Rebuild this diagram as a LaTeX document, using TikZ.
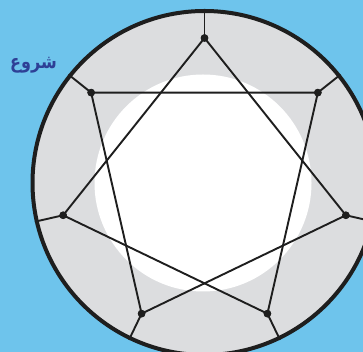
\documentclass[tikz,border=0pt]{standalone}
\usepackage{fontspec}
\newfontfamily\arabicfont[Script=Arabic]{DejaVu Sans}
\TeXXeTstate=1
\usetikzlibrary{calc}
\definecolor{bg}{RGB}{110,196,236}
\definecolor{ringgray}{RGB}{220,221,223}
\definecolor{txtblue}{RGB}{46,64,150}
\definecolor{ink}{RGB}{30,30,30}
\begin{document}
\begin{tikzpicture}[x=1pt,y=1pt,
  dot/.style={circle,fill=ink,inner sep=0pt,minimum size=7.5pt},
  starline/.style={draw=ink,line width=1.9pt},
  rim/.style={draw=ink,line width=4pt,fill=ringgray}]
\useasboundingbox (0,0) rectangle (363,352);
\fill[bg] (0,0) rectangle (363,352);
\clip (0,0) rectangle (363,352);
\coordinate (C) at (204.5,169);
\path[rim] (C) circle[radius=172];
\fill[white] (203,169) circle[radius=108.5];
\foreach \k in {0,...,6}{
  \coordinate (q\k) at ($(C)+({90-\k*360/7}:174)$);
  \node[dot] (p\k) at ($(C)+({90-\k*360/7}:145)$) {};
}
\foreach \k in {0,...,6}{
  \draw[starline] (p\k.center) -- (q\k);
}
\draw[starline] (p0.center) -- (p5.center);
\draw[starline] (p0.center) -- (p2.center);
\draw[starline] (p6.center) -- (p1.center);
\draw[starline] (p6.center) -- (p4.center);
\draw[starline] (p1.center) -- (p3.center);
\draw[starline] (p5.center) -- (p3.center);
\draw[starline] (p2.center) -- (p4.center);
\foreach \k in {0,...,6}{
  \fill[ink] (p\k) circle[radius=3.8];
}
\node[text=txtblue,font=\arabicfont\bfseries\fontsize{16}{18}\selectfont,yscale=1.2,transform shape] (start) at (33.5,287) {\beginR شروع\endR};
\end{tikzpicture}
\end{document}
